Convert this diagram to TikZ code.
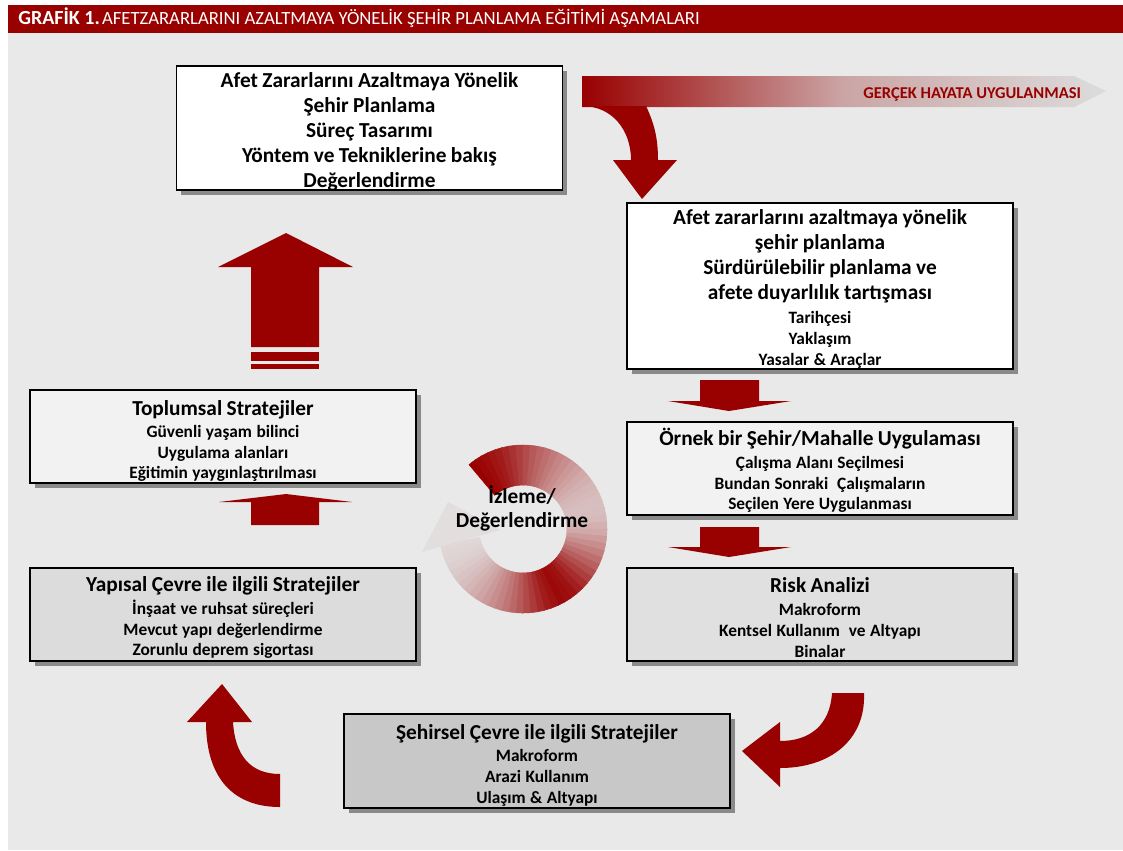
\documentclass[tikz,border=0pt]{standalone}
\usepackage{fontspec}
\setmainfont{Carlito}
\usetikzlibrary{shadows}
\setlength{\parskip}{0pt}
\setlength{\parindent}{0pt}
\definecolor{dred}{HTML}{990000}
\definecolor{panel}{HTML}{E9E9E9}
\definecolor{shad}{HTML}{8A8A8A}
\definecolor{ltring}{HTML}{E2DEDE}
\definecolor{ltg}{HTML}{DCDCDC}
\definecolor{fillA}{HTML}{F2F2F2}
\definecolor{fillB}{HTML}{E0E0E0}
\definecolor{fillC}{HTML}{DCDCDC}
\definecolor{fillD}{HTML}{C8C8C8}
\newcommand\TxHead[1]{{\fontsize{16}{18.75}\selectfont #1\par}}
\newcommand\TxFirst[1]{{\fontsize{13}{17.2}\selectfont #1\par}}
\newcommand\TxFirstB[1]{{\fontsize{13}{16.5}\selectfont #1\par}}
\newcommand\TxSub[1]{{\fontsize{13}{15.6}\selectfont #1\par}}
\tikzset{
  box/.style={draw=black, line width=1pt, inner sep=0pt, minimum width=289.5pt,
    minimum height=69.75pt,
    drop shadow={shadow xshift=3.5pt, shadow yshift=-3.5pt, fill=shad, opacity=1}},
  boxtext/.style={text width=280pt, align=center, font=\bfseries, inner sep=0pt},
  blockarrow/.style={fill=dred, draw=none},
}
\begin{document}
\begin{tikzpicture}[x=0.75pt,y=-0.75pt]
\useasboundingbox (0,0) rectangle (1123,850);
% background
\fill[white] (0,0) rectangle (1123,850);
\fill[panel] (8,33) rectangle (1123,850);
\fill[dred] (8,5) rectangle (1123,33);
\node[anchor=base west, text=white, inner sep=0pt] (title) at (18,24.5)
  {{\fontsize{15}{15}\selectfont\bfseries GRAFİK 1.}\,{\fontsize{14}{15}\selectfont AFETZARARLARINI AZALTMAYA YÖNELİK ŞEHİR PLANLAMA EĞİTİMİ AŞAMALARI}};

% gradient band
\shade[left color=dred, right color=ltg, middle color=dred!25!ltg]
  (582,76) -- (1074,76) -- (1106,91) -- (1074,107) -- (582,107) -- cycle;
\node[anchor=base west, text=dred, inner sep=0pt, font=\bfseries\fontsize{12.4}{14}\selectfont] (real) at (863,98) {GERÇEK HAYATA UYGULANMASI};
% curved down arrow from band
\fill[dred] (582,106) .. controls (612,106) and (631,130) .. (631,160) -- (613,160) -- (642,199) -- (677,160) -- (658,160)
  .. controls (658,140) and (655,125) .. (646,106) -- cycle;

% boxes
\node[box, fill=white, minimum height=93pt] (top) at (369.5,128) {};
\node[boxtext] (top-t) at ([yshift=-2.6pt]top.center) {%
  \TxHead{Afet Zararlarını Azaltmaya Yönelik}\TxHead{Şehir Planlama}\TxHead{Süreç Tasarımı}%
  \TxHead{Yöntem ve Tekniklerine bakış}\TxHead{Değerlendirme}};
\node[box, fill=white, minimum height=124.5pt] (r1) at (820,286) {};
\node[boxtext] (r1-t) at ([yshift=-2.3pt]r1.center) {%
  \TxHead{Afet zararlarını azaltmaya yönelik}\TxHead{şehir planlama}\TxHead{Sürdürülebilir planlama ve}%
  \TxHead{afete duyarlılık tartışması}{\fontsize{13}{18}\selectfont Tarihçesi\par}\TxSub{Yaklaşım}\TxSub{Yasalar \& Araçlar}};
\node[box, fill=fillA] (r2) at (820,468.5) {};
\node[boxtext] (r2-t) at ([yshift=-1.5pt]r2.center) {%
  \TxHead{Örnek bir Şehir/Mahalle Uygulaması}\TxFirst{Çalışma Alanı Seçilmesi}%
  \TxSub{Bundan Sonraki\ \ Çalışmaların}\TxSub{Seçilen Yere Uygulanması}};
\node[box, fill=fillB] (r3) at (820,614.5) {};
\node[boxtext] (r3-t) at ([yshift=-2.3pt]r3.center) {%
  \TxHead{Risk Analizi}\TxFirst{Makroform}\TxSub{Kentsel Kullanım\ \ ve Altyapı}\TxSub{Binalar}};
\node[box, fill=fillA] (l1) at (223,436.5) {};
\node[boxtext] (l1-t) at ([yshift=-3.4pt]l1.center) {%
  \TxHead{Toplumsal Stratejiler}\TxFirstB{Güvenli yaşam bilinci}\TxSub{Uygulama alanları}\TxSub{Eğitimin yaygınlaştırılması}};
\node[box, fill=fillC] (l2) at (223,614.5) {};
\node[boxtext] (l2-t) at ([yshift=-2.3pt]l2.center) {%
  \TxHead{Yapısal Çevre ile ilgili Stratejiler}\TxFirst{İnşaat ve ruhsat süreçleri}\TxSub{Mevcut yapı değerlendirme}\TxSub{Zorunlu deprem sigortası}};
\node[box, fill=fillD, minimum height=70.5pt] (bot) at (537,761) {};
\node[boxtext] (bot-t) at ([yshift=-3.4pt]bot.center) {%
  \TxHead{Şehirsel Çevre ile ilgili Stratejiler}\TxFirstB{Makroform}\TxSub{Arazi Kullanım}\TxSub{Ulaşım \& Altyapı}};

% big up arrow with bars
\fill[blockarrow] (251,347) -- (251,267) -- (218,267) -- (286,233) -- (353,267) -- (319,267) -- (319,347) -- cycle;
\fill[blockarrow] (251,352) rectangle (319,361);
\fill[blockarrow] (251,364) rectangle (319,369);
% small up arrow
\fill[blockarrow] (251,525) -- (251,502) -- (219,502) -- (286,494) -- (352,502) -- (319,502) -- (319,525) -- cycle;
% right down arrows
\fill[blockarrow] (700,380) -- (759,380) -- (759,401) -- (791,401) -- (729,411) -- (668,401) -- (700,401) -- cycle;
\fill[blockarrow] (700,527) -- (759,527) -- (759,547) -- (791,547) -- (729,557) -- (668,547) -- (700,547) -- cycle;
% bottom-left curved arrow
\fill[blockarrow] (280,807) .. controls (235,807) and (206,780) .. (206,722) -- (187,722) -- (222,684) -- (252,722) -- (233,722)
  .. controls (235,755) and (250,774) .. (280,774) -- cycle;
% bottom-right curved arrow
\fill[blockarrow] (864,693) .. controls (866,740) and (830,768) .. (780,768) -- (780,787) -- (742,751) -- (780,722) -- (780,741)
  .. controls (810,741) and (830,725) .. (832,693) -- cycle;

% circular arrow
\begin{scope}[shift={(523,529)}, x=0.75pt, y=0.75pt]
\foreach \a/\p in {130/100,125/97,120/95,115/91,110/88,105/83,100/78,95/72,90/66,85/60,80/55,75/50,70/45,65/40,60/36,55/32,
  50/28,45/24,40/21,35/18,30/16,25/15,20/14,15/15,10/16,5/20,0/24,-5/30,-10/36,-15/43,-20/50,-25/57,-30/65,-35/72,-40/80,
  -45/86,-50/92,-55/94,-60/96,-65/92,-70/88,-75/81,-80/74,-85/67,-90/60,-95/53,-100/47,-105/41,-110/36,-115/31,-120/26,
  -125/22,-130/18,-135/15,-140/12,-145/9,-150/7,-155/5,-160/4,-165/3}{
  \pgfmathsetmacro\bb{max(\a-5.8,-169)}
  \filldraw[dred!\p!ltring, line width=0.4pt, line join=round] (\a:44) -- (\a:84) arc[start angle=\a, end angle=\bb, radius=84] -- (\bb:44)
    arc[start angle=\bb, end angle=\a, radius=44] -- cycle;
}
\end{scope}
\fill[ltring] (422,552) -- (448,502) -- (500,530) -- cycle;
\node[align=center, font=\bfseries\fontsize{16}{18}\selectfont, inner sep=0pt] (mon) at (522,508) {İzleme/\\Değerlendirme};
\end{tikzpicture}
\end{document}
